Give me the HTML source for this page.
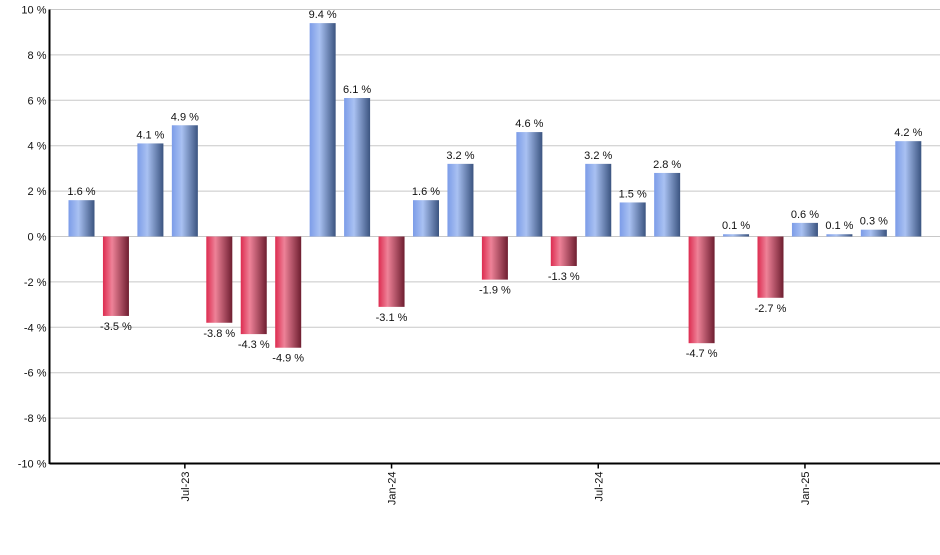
<!DOCTYPE html>
<html><head><meta charset="utf-8"><style>
body{margin:0;background:#fff;}
svg text{font-family:"Liberation Sans",sans-serif;font-size:11px;fill:#111;}
</style></head><body>
<svg id="chart" width="940" height="550" viewBox="0 0 940 550" xmlns="http://www.w3.org/2000/svg">
<defs>
<linearGradient id="gpos" x1="0" x2="1" y1="0" y2="0">
<stop offset="0" stop-color="#7c9ce8"/><stop offset="0.38" stop-color="#a9c1f2"/><stop offset="1" stop-color="#3b5480"/>
</linearGradient>
<linearGradient id="gneg" x1="0" x2="1" y1="0" y2="0">
<stop offset="0" stop-color="#dd2c50"/><stop offset="0.35" stop-color="#ee8298"/><stop offset="1" stop-color="#6e1e30"/>
</linearGradient>
</defs>
<g id="grid"></g><g id="bars"></g><g id="labels"></g><g id="axes"></g>
</svg>
<script>
const values = [1.6,-3.5,4.1,4.9,-3.8,-4.3,-4.9,9.4,6.1,-3.1,1.6,3.2,-1.9,4.6,-1.3,3.2,1.5,2.8,-4.7,0.1,-2.7,0.6,0.1,0.3,4.2];
const yTicks = [10,8,6,4,2,0,-2,-4,-6,-8,-10];
const xTickLabels = ["Jul-23","Jan-24","Jul-24","Jan-25"];
const xTickIndex = [3,9,15,21];
const NS="http://www.w3.org/2000/svg";
const pLeft=49.5,pRight=940,pTop=9.5,pBottom=463.5;
const yScale=v=>pTop+(10-v)*(pBottom-pTop)/20;
const step=34.45,x0=68.5,bw=26;
const bx=i=>x0+i*step;
function mk(t,a,p){const e=document.createElementNS(NS,t);for(const k in a)e.setAttribute(k,a[k]);p.appendChild(e);return e;}
const gGrid=document.getElementById('grid'),gBars=document.getElementById('bars'),gLabels=document.getElementById('labels'),gAxes=document.getElementById('axes');
yTicks.forEach(t=>{
  const l=mk('line',{x1:pLeft,x2:pRight,y1:yScale(t),y2:yScale(t),stroke:'#c8c8c8','stroke-width':1},gGrid);
  
  
  const tx=mk('text',{x:pLeft-3,y:yScale(t)+4,'text-anchor':'end'},gAxes);
  tx.textContent=t+' %';
  
  
});
values.forEach((v,i)=>{
  const y1=Math.min(yScale(v),yScale(0)),h=Math.abs(yScale(v)-yScale(0));
  const r=mk('rect',{x:bx(i),y:y1,width:bw,height:Math.max(h,1),fill:v>=0?'url(#gpos)':'url(#gneg)'},gBars);
  
  
  const tx=mk('text',{x:bx(i)+bw/2,y:v>=0?yScale(v)-5:yScale(v)+14,'text-anchor':'middle'},gLabels);
  tx.textContent=v.toFixed(1)+' %';
  
  
});
mk('line',{x1:pLeft,x2:pLeft,y1:pTop,y2:pBottom+0.5,stroke:'#000','stroke-width':2},gAxes);
mk('line',{x1:pLeft,x2:pRight,y1:pBottom,y2:pBottom,stroke:'#000','stroke-width':2},gAxes);
xTickLabels.forEach((lab,k)=>{
  const cx=bx(xTickIndex[k])+bw/2;
  mk('line',{x1:cx,x2:cx,y1:pBottom,y2:pBottom+5,stroke:'#000','stroke-width':1.5},gAxes);
  const tx=mk('text',{x:0,y:0,'text-anchor':'end',transform:`translate(${cx+4},${pBottom+8}) rotate(-90)`},gAxes);
  tx.textContent=lab;
  
  
});
</script>
</body></html>
